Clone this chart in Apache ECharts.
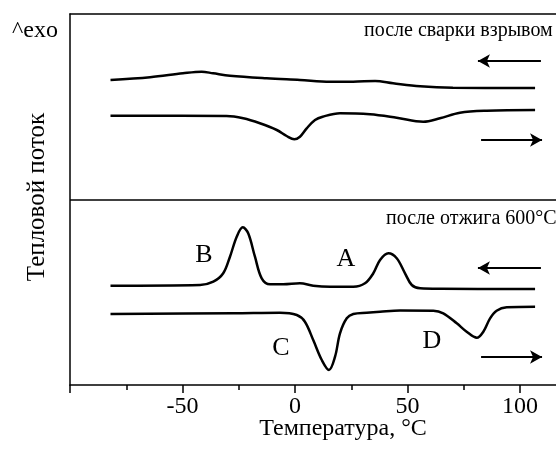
<!DOCTYPE html>
<html>
<head>
<meta charset="utf-8">
<script src="https://cdn.jsdelivr.net/npm/echarts@6/dist/echarts.min.js"></script>
<style>
html,body{margin:0;padding:0;width:556px;height:450px;overflow:hidden;background:#fff;}
#c{width:600px;height:450px;}
</style>
</head>
<body>
<div id="c"></div>
<script>
// Temperature (°C) vs heat flow (arbitrary units)
const xTicks = [-50, 0, 50, 100];
const weldCooling = [[-82,305],[-64.4,307.7],[-49.8,311.7],[-41.5,313.3],[-36.4,311.7],[-28.9,309.3],[-12.6,306.7],[2.2,305],[15.6,303.3],[25.8,303.3],[35.6,304],[43.6,301.7],[55.6,298.7],[70.2,297.3],[106.7,297]];
const weldHeating = [[-82,269.3],[-30.4,269],[-23,266.7],[-15.6,261.7],[-8.1,255],[-3.7,249],[-0.3,245.7],[2.2,248.3],[5.2,256.7],[8.9,265],[12.3,268.3],[20,271.7],[33.3,270.7],[45.2,267.3],[57,263.3],[64.4,266.7],[73.3,272.3],[85.2,274.3],[106.7,275]];
const annealCooling = [[-82,99.3],[-42.2,100],[-36.3,103.3],[-31.9,111.7],[-28.9,128.3],[-25.9,148.3],[-23.2,157.7],[-20.8,151.7],[-17.8,128.3],[-14.8,106.7],[-11.1,100.7],[-5.2,100.7],[2.2,101.7],[8.1,99.3],[15.6,98.3],[25.9,98.3],[31.1,101.7],[34.8,111.7],[37.8,125],[41.5,131.7],[45.2,126.7],[48.9,111.7],[51.9,100],[55.6,96.7],[65,96.2],[106.7,96]];
const annealHeating = [[-82,71],[-27.4,71.7],[-6.7,72.3],[0.8,70],[4.4,63.3],[8.1,45],[11.9,25],[15.1,15],[17.8,28.3],[20,51.7],[23,66.7],[25.9,71],[31.9,72.3],[37.8,73.3],[46.7,74.5],[61.5,74.3],[65.9,71.7],[71.9,61.7],[76.3,53.3],[80.8,47.3],[83.7,53.3],[86.7,66.7],[89.6,74.3],[94.1,77.7],[106.7,78.3]];
const panelDivider = 185;
const arrows = [
  [[109.3,324],[81.3,324]],
  [[82.7,245],[109.8,245]],
  [[109.3,117],[81.3,117]],
  [[82.7,28],[109.8,28]]
];

const F = '"Liberation Serif", "Times New Roman", serif';
const lineStyle = {color:'#000', width:2.5};
function mk(data, extra){
  return Object.assign({type:'line', data:data, showSymbol:false, smooth:0.35, lineStyle:lineStyle, silent:true}, extra||{});
}
const chart = echarts.init(document.getElementById('c'), null, {renderer:'canvas'});
chart.setOption({
  animation:false,
  grid:{left:70, right:35, top:14, bottom:65},
  xAxis:[{
    type:'value', min:-100, max:120, interval:50, position:'bottom',
    axisLine:{show:true, onZero:false, lineStyle:{color:'#000', width:1.5}},
    axisTick:{show:true, inside:false, length:8, lineStyle:{color:'#000', width:1.5}},
    minorTick:{show:true, splitNumber:2, length:5, lineStyle:{color:'#000', width:1.5}},
    splitLine:{show:false},
    axisLabel:{margin:10, fontFamily:F, fontSize:24, color:'#000',
      formatter:function(v){return xTicks.indexOf(v)>=0 ? String(v) : '';}}
  },{
    type:'value', min:-100, max:120, position:'top',
    axisLine:{show:true, onZero:false, lineStyle:{color:'#000', width:1.5}},
    axisTick:{show:false}, axisLabel:{show:false}, splitLine:{show:false}
  }],
  yAxis:{type:'value', min:0, max:371, position:'left',
    axisLine:{show:true, onZero:false, lineStyle:{color:'#000', width:1.5}},
    axisTick:{show:false}, axisLabel:{show:false}, splitLine:{show:false}},
  series:[
    mk(weldCooling, {markLine:{silent:true, symbol:'none', label:{show:false},
      lineStyle:{color:'#000', width:1.5, type:'solid'}, data:[{yAxis:panelDivider}]}}),
    mk(weldHeating, {markLine:{silent:true, symbol:['none','arrow'], symbolSize:[10,12], label:{show:false},
      lineStyle:{color:'#000', width:2, type:'solid'},
      data:arrows.map(a=>[{coord:a[0]},{coord:a[1]}])}}),
    mk(annealCooling),
    mk(annealHeating)
  ],
  graphic:[
    {type:'text', x:12, y:31, style:{text:'^exo', font:'24px '+F, fill:'#000', textAlign:'left', textVerticalAlign:'middle'}},
    {type:'text', x:37, y:197, rotation:Math.PI/2, style:{text:'Тепловой поток', font:'25px '+F, fill:'#000', textAlign:'center', textVerticalAlign:'middle'}},
    {type:'text', x:343, y:429, style:{text:'Температура, °C', font:'24px '+F, fill:'#000', textAlign:'center', textVerticalAlign:'middle'}},
    {type:'text', x:364, y:31, style:{text:'после сварки взрывом', font:'20px '+F, fill:'#000', textAlign:'left', textVerticalAlign:'middle'}},
    {type:'text', x:386, y:219, style:{text:'после отжига 600°C', font:'20px '+F, fill:'#000', textAlign:'left', textVerticalAlign:'middle'}},
    {type:'text', x:204, y:255, style:{text:'B', font:'26px '+F, fill:'#000', textAlign:'center', textVerticalAlign:'middle'}},
    {type:'text', x:346, y:259, style:{text:'A', font:'26px '+F, fill:'#000', textAlign:'center', textVerticalAlign:'middle'}},
    {type:'text', x:281, y:348, style:{text:'C', font:'26px '+F, fill:'#000', textAlign:'center', textVerticalAlign:'middle'}},
    {type:'text', x:432, y:341, style:{text:'D', font:'26px '+F, fill:'#000', textAlign:'center', textVerticalAlign:'middle'}}
  ]
});
</script>
</body>
</html>
